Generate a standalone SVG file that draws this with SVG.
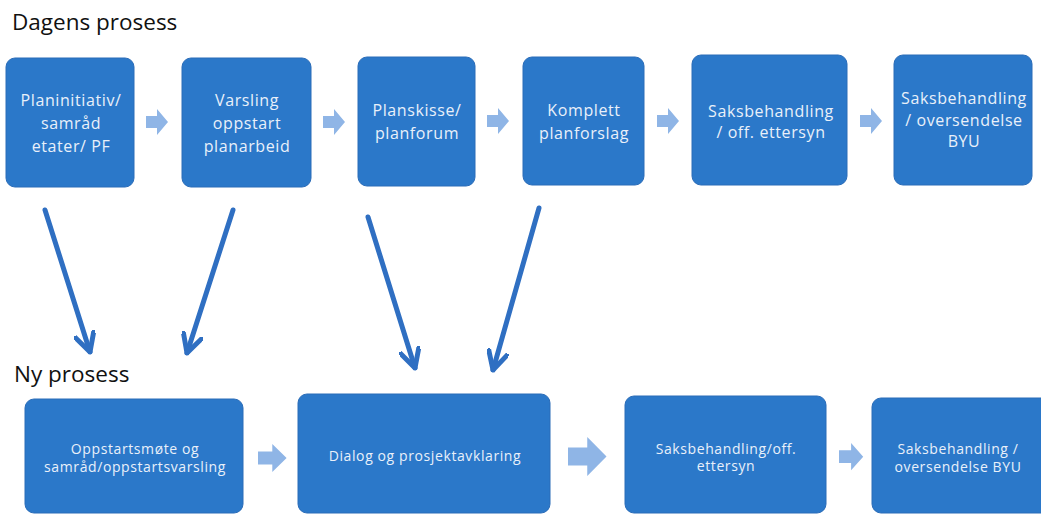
<svg xmlns="http://www.w3.org/2000/svg" width="1041" height="514" viewBox="0 0 1041 514">
<style>
.box{fill:#2b78c9;stroke:#2a6cb8;stroke-width:1}
.t{font-family:"Open Sans","Liberation Sans",sans-serif;font-size:16px;letter-spacing:0.6px;fill:#e9f0fa;text-anchor:middle}
.s{font-family:"Open Sans","Liberation Sans",sans-serif;font-size:14px;letter-spacing:0.6px;fill:#e9f0fa;text-anchor:middle}
.h{font-family:"Open Sans","Liberation Sans",sans-serif;font-size:22.5px;fill:#111}
.big{stroke:#2f6fc2;stroke-width:5;fill:none;stroke-linecap:round;marker-end:url(#v)}
.blk{fill:#8fb5e6}
</style>
<defs>
<marker id="v" viewBox="0 0 20 20" refX="18" refY="10" markerWidth="22" markerHeight="22" markerUnits="userSpaceOnUse" orient="auto">
<path d="M1,1 L18,10 L1,19" fill="none" stroke="#2f6fc2" stroke-width="4.5" stroke-linecap="round" stroke-linejoin="round"/>
</marker>
<path id="ba" d="M0,7 L11,7 L11,0 L22,13 L11,26 L11,19 L0,19 Z"/>
</defs>
<rect width="1041" height="514" fill="#ffffff"/>
<text class="h" x="12" y="30">Dagens prosess</text>
<text class="h" x="14" y="382">Ny prosess</text>

<g id="d1"><rect class="box" x="6" y="58" width="128" height="129" rx="9"/>
<text class="t" x="71" y="106">Planinitiativ/</text><text class="t" x="71" y="129">samråd</text><text class="t" x="71" y="152">etater/ PF</text></g>
<g id="d2"><rect class="box" x="182" y="58" width="129" height="129" rx="9"/>
<text class="t" x="247" y="106">Varsling</text><text class="t" x="247" y="129">oppstart</text><text class="t" x="247" y="152">planarbeid</text></g>
<g id="d3"><rect class="box" x="358" y="57" width="117" height="129" rx="9"/>
<text class="t" x="417" y="116">Planskisse/</text><text class="t" x="417" y="139">planforum</text></g>
<g id="d4"><rect class="box" x="523" y="57" width="121" height="128" rx="9"/>
<text class="t" x="584" y="116">Komplett</text><text class="t" x="584" y="139">planforslag</text></g>
<g id="d5"><rect class="box" x="692" y="55" width="155" height="130" rx="9"/>
<text class="t" x="771" y="117">Saksbehandling</text><text class="t" x="771" y="138">/ off. ettersyn</text></g>
<g id="d6"><rect class="box" x="894" y="55" width="138" height="130" rx="9"/>
<text class="t" x="964" y="104">Saksbehandling</text><text class="t" x="964" y="126">/ oversendelse</text><text class="t" x="964" y="147">BYU</text></g>

<g id="n1"><rect class="box" x="25" y="399" width="218" height="114" rx="9"/>
<text class="s" x="135" y="454">Oppstartsmøte  og</text><text class="s" x="135" y="472">samråd/oppstartsvarsling</text></g>
<g id="n2"><rect class="box" x="298" y="394" width="252" height="119" rx="9"/>
<text class="s" x="425" y="461">Dialog og prosjektavklaring</text></g>
<g id="n3"><rect class="box" x="625" y="396" width="201" height="117" rx="9"/>
<text class="s" x="726" y="454">Saksbehandling/off.</text><text class="s" x="726" y="471">ettersyn</text></g>
<g id="n4"><rect class="box" x="872" y="398" width="180" height="115" rx="9"/>
<text class="s" x="958" y="454">Saksbehandling /</text><text class="s" x="958" y="472">oversendelse BYU</text></g>

<g id="connectors">
<use href="#ba" class="blk" transform="translate(146,109)"/>
<use href="#ba" class="blk" transform="translate(323,109)"/>
<use href="#ba" class="blk" transform="translate(487,108)"/>
<use href="#ba" class="blk" transform="translate(657,108)"/>
<use href="#ba" class="blk" transform="translate(860,108)"/>
<use href="#ba" class="blk" transform="translate(258,444) scale(1.3,1.08)"/>
<use href="#ba" class="blk" transform="translate(568,437) scale(1.75,1.5)"/>
<use href="#ba" class="blk" transform="translate(839,443) scale(1.1,1.05)"/>
<line class="big" x1="45" y1="210" x2="90" y2="352"/>
<line class="big" x1="233" y1="210" x2="187" y2="353"/>
<line class="big" x1="368" y1="217" x2="415" y2="368"/>
<line class="big" x1="539" y1="208" x2="493" y2="370"/>
</g>
</svg>
